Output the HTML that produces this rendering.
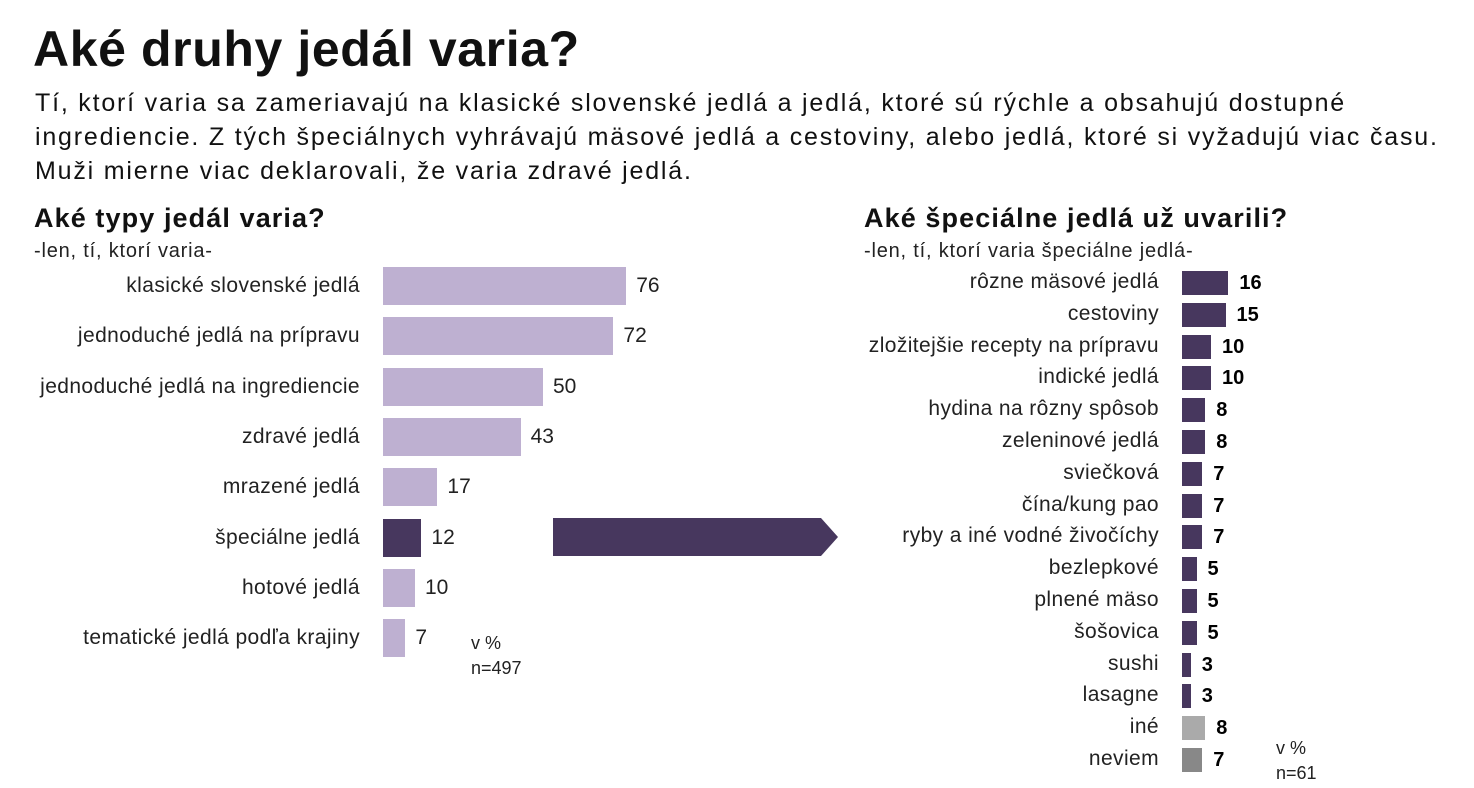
<!DOCTYPE html>
<html><head><meta charset="utf-8"><style>
body{margin:0;width:1474px;height:788px;background:#fff;font-family:"Liberation Sans","DejaVu Sans",sans-serif;color:#111;position:relative;overflow:hidden}
.a{position:absolute;white-space:nowrap}
.lb{position:absolute;text-align:right;font-size:21px;letter-spacing:0.4px;color:#222;white-space:nowrap}
.bar{position:absolute}
.v{position:absolute;font-size:21px;color:#222}
.rv{position:absolute;font-size:20px;font-weight:bold;color:#000}
</style></head><body>
<div class="a" style="left:33px;top:20px;font-size:50px;font-weight:bold;letter-spacing:0.6px">Aké druhy jedál varia?</div>
<div class="a" style="left:35px;top:86px;font-size:25px;letter-spacing:1.8px;line-height:34px;color:#111">Tí, ktorí varia sa zameriavajú na klasické slovenské jedlá a jedlá, ktoré sú rýchle a obsahujú dostupné<br>ingrediencie. Z tých špeciálnych vyhrávajú mäsové jedlá a cestoviny, alebo jedlá, ktoré si vyžadujú viac času.<br>Muži mierne viac deklarovali, že varia zdravé jedlá.</div>
<div class="a" style="left:34px;top:203px;font-size:27px;letter-spacing:1.1px;font-weight:bold">Aké typy jedál varia?</div>
<div class="a" style="left:34px;top:240px;font-size:20px;letter-spacing:0.8px;color:#222">-len, tí, ktorí varia-</div>
<div class="a" style="left:864px;top:203px;font-size:27px;letter-spacing:1.1px;font-weight:bold">Aké špeciálne jedlá už uvarili?</div>
<div class="a" style="left:864px;top:240px;font-size:20px;letter-spacing:0.8px;color:#222">-len, tí, ktorí varia špeciálne jedlá-</div>
<div id="L"></div><div id="R"></div>
<svg class="a" style="left:553px;top:518px" width="286" height="38"><polygon points="0,0 268,0 285,19 268,38 0,38" fill="#47375e"/></svg>
<div class="a" style="left:471px;top:631px;font-size:18px;line-height:25px;color:#222">v %<br>n=497</div>
<div class="a" style="left:1276px;top:736px;font-size:18px;line-height:25px;color:#222">v %<br>n=61</div>
<script>
var L=[["klasické slovenské jedlá",76],["jednoduché jedlá na prípravu",72],["jednoduché jedlá na ingrediencie",50],["zdravé jedlá",43],["mrazené jedlá",17],["špeciálne jedlá",12],["hotové jedlá",10],["tematické jedlá podľa krajiny",7]];
var h="";L.forEach(function(d,i){var c=286+i*50.3,w=d[1]*3.2;
h+='<div class="lb" style="right:1114px;top:'+(c-12)+'px">'+d[0]+'</div>';
h+='<div class="bar" style="left:383px;top:'+(c-19)+'px;width:'+w+'px;height:38px;background:'+(i==5?'#47375e':'#beb0d1')+'"></div>';
h+='<div class="v" style="left:'+(383+w+10)+'px;top:'+(c-12)+'px">'+d[1]+'</div>';});
document.getElementById("L").innerHTML=h;
var R=[["rôzne mäsové jedlá",16],["cestoviny",15],["zložitejšie recepty na prípravu",10],["indické jedlá",10],["hydina na rôzny spôsob",8],["zeleninové jedlá",8],["sviečková",7],["čína/kung pao",7],["ryby a iné vodné živočíchy",7],["bezlepkové",5],["plnené mäso",5],["šošovica",5],["sushi",3],["lasagne",3],["iné",8],["neviem",7]];
h="";R.forEach(function(d,i){var c=283+i*31.8,w=d[1]*2.9,col=i==14?'#aaaaaa':(i==15?'#888888':'#47375e');
h+='<div class="lb" style="right:315px;top:'+(c-13)+'px">'+d[0]+'</div>';
h+='<div class="bar" style="left:1182px;top:'+(c-12)+'px;width:'+w+'px;height:24px;background:'+col+'"></div>';
h+='<div class="rv" style="left:'+(1182+w+11)+'px;top:'+(c-11)+'px">'+d[1]+'</div>';});
document.getElementById("R").innerHTML=h;
</script>
</body></html>
